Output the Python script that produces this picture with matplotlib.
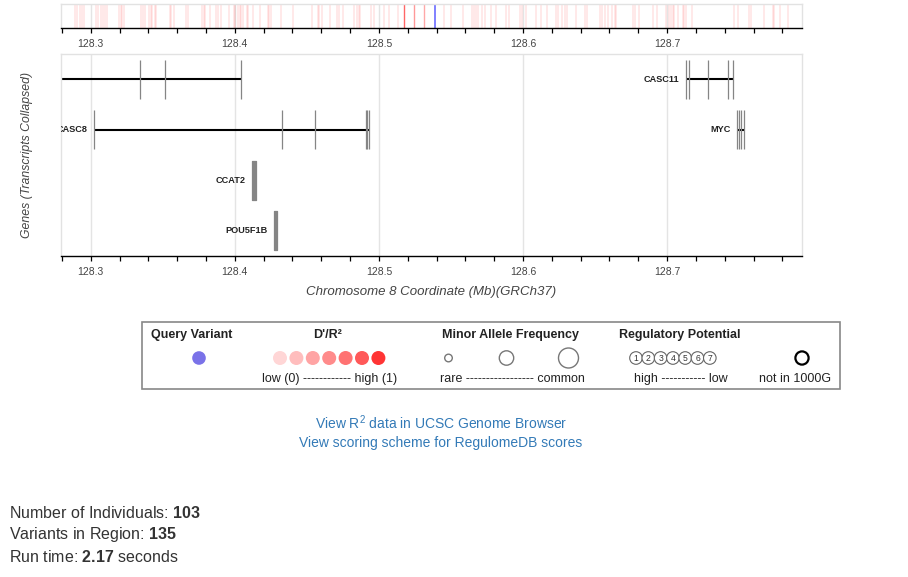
import matplotlib
matplotlib.use('Agg')
import matplotlib.pyplot as plt
import matplotlib.transforms as mtransforms
from matplotlib.patches import Circle, Rectangle
from matplotlib.ticker import MultipleLocator

plt.rcParams['font.family'] = ['Liberation Sans', 'DejaVu Sans']
plt.rcParams['mathtext.fontset'] = 'custom'
plt.rcParams['mathtext.rm'] = 'Liberation Sans'
plt.rcParams['mathtext.it'] = 'Liberation Sans:italic'
plt.rcParams['mathtext.bf'] = 'Liberation Sans:bold'

# posiciones de las variantes de la region (Mb)
variantes = [
    128.2893, 128.2907, 128.2923, 128.2940, 128.2956, 128.3039, 128.3051, 128.3074,
    128.3085, 128.3097, 128.3113, 128.3197, 128.3208, 128.3220, 128.3229, 128.3352,
    128.3363, 128.3375, 128.3405, 128.3416, 128.3428, 128.3444, 128.3456, 128.3548,
    128.3560, 128.3579, 128.3664, 128.3676, 128.3773, 128.3785, 128.3796, 128.3826,
    128.3872, 128.3884, 128.3907, 128.3958, 128.3995, 128.4004, 128.4023, 128.4034,
    128.4046, 128.4060,
    128.4083, 128.4095, 128.4129, 128.4176, 128.4227, 128.4238, 128.4250, 128.4319,
    128.4403, 128.4535, 128.4576, 128.4585, 128.4604, 128.4662, 128.4708, 128.4720,
    128.4750, 128.4828, 128.4847, 128.4859, 128.4870, 128.4944, 128.4963, 128.5032,
    128.5072, 128.5132,
    128.5451, 128.5497, 128.5583, 128.5643, 128.5660, 128.5676, 128.5687, 128.5717,
    128.5736, 128.5775, 128.5810, 128.5884, 128.5903, 128.5979, 128.5995, 128.6023,
    128.6092, 128.6127, 128.6169, 128.6231, 128.6241, 128.6268, 128.6291, 128.6308,
    128.6370, 128.6430, 128.6447, 128.6532, 128.6551, 128.6569, 128.6590, 128.6620,
    128.6639, 128.6648,
    128.6766, 128.6778, 128.6803, 128.6900, 128.6930, 128.6993, 128.7016, 128.7028,
    128.7039, 128.7051, 128.7074, 128.7109, 128.7120, 128.7132, 128.7173, 128.7467,
    128.7491, 128.7567, 128.7579, 128.7671, 128.7734, 128.7745, 128.7785, 128.7838,
]
# variantes con LD visible respecto a la consulta
ld_pos = [128.5171, 128.5247, 128.5315]
ld_alfa = [0.6, 0.4, 0.34]
consulta = 128.5386

# genes (transcritos colapsados); el primero empieza fuera de la ventana y su nombre no se ve
gen_nombres = ['', 'CASC11', 'CASC8', 'MYC', 'CCAT2', 'POU5F1B']
gen_fila = [1, 1, 2, 2, 3, 4]
gen_inicio = [128.2200, 128.7129, 128.3023, 128.7482, 128.4120, 128.4271]
gen_fin = [128.4044, 128.7460, 128.4930, 128.7534, 128.4148, 128.4296]
gen_exones = [
    [(128.3344, 0), (128.3516, 0), (128.4044, 0)],
    [(128.7129, 0), (128.7150, 0), (128.7282, 0), (128.7424, 0), (128.7460, 0)],
    [(128.3023, 0), (128.4328, 0), (128.4556, 0), (128.4910, 0), (128.4920, 0), (128.4930, 0)],
    [(128.7482, 0), (128.7496, 0), (128.7516, 0), (128.7534, 0)],
    [(128.4120, 0.0028)],
    [(128.4271, 0.0025)],
]

# leyenda
dprime_colores = ['#ffd6d6', '#ffbdbd', '#ffa4a4', '#ff8b8b', '#ff7272', '#ff5959', '#ff3434']
maf_radios = [3.8, 7.2, 10.0]
reg_niveles = ['1', '2', '3', '4', '5', '6', '7']

n_individuos = 103
n_variantes = 135
tiempo = 2.17

W, H = 908, 577
xmin, xmax = 128.2794, 128.7936


def caja(x0, y0, x1, y1):
    return [x0 / W, 1 - y1 / H, (x1 - x0) / W, (y1 - y0) / H]


fig = plt.figure(figsize=(W / 100, H / 100), dpi=100)
fig.patch.set_facecolor('white')

# ejes de fondo en pixeles para textos y leyenda
fondo = fig.add_axes([0, 0, 1, 1])
fondo.set_xlim(0, W)
fondo.set_ylim(H, 0)
fondo.axis('off')


def estilo_eje(ax):
    ax.set_xlim(xmin, xmax)
    ax.xaxis.set_major_locator(MultipleLocator(0.1))
    ax.xaxis.set_minor_locator(MultipleLocator(0.02))
    ax.xaxis.set_major_formatter(matplotlib.ticker.FormatStrFormatter('%.1f'))
    ax.tick_params(axis='x', which='both', length=3.6, width=0.9, color='black',
                   labelsize=7.5, labelcolor='#444444', pad=4.5)
    ax.tick_params(axis='y', left=False, labelleft=False)
    for lado in ['top', 'right', 'left']:
        ax.spines[lado].set_color('#e2e2e2')
        ax.spines[lado].set_linewidth(1.0)
    ax.spines['bottom'].set_color('black')
    ax.spines['bottom'].set_linewidth(1.0)
    ax.grid(axis='x', which='major', color='#e4e4e4', linewidth=1.0)
    ax.set_axisbelow(True)


# tira superior de variantes
tira = fig.add_axes(caja(61, 4, 802, 28))
estilo_eje(tira)
tira.set_ylim(0, 1)
tira.vlines(variantes, 0, 1, color='red', alpha=0.11, linewidth=1.1)
for p, a in zip(ld_pos, ld_alfa):
    tira.vlines(p, 0, 1, color='red', alpha=a, linewidth=1.0)
tira.vlines(consulta, 0, 1, color='#8080ff', linewidth=1.4)

# panel de genes
ax = fig.add_axes(caja(61, 54, 802, 256))
estilo_eje(ax)
ax.set_ylim(4.5, 0.5)
desplazado = mtransforms.offset_copy(ax.transData, fig=fig, x=-4.5, y=0, units='points')
for nombre, fila, ini, fin, exones in zip(gen_nombres, gen_fila, gen_inicio, gen_fin, gen_exones):
    ax.hlines(fila, ini, fin, color='black', linewidth=1.5, zorder=2)
    ax.broken_barh(exones, (fila - 0.39, 0.78), facecolor='#858585',
                   edgecolor='#858585', linewidth=0.9, zorder=3)
    if nombre:
        t = ax.text(ini, fila, nombre, transform=desplazado, ha='right', va='center',
                    fontsize=6.6, fontweight='bold', color='#222222', clip_on=True)
        t.set_clip_box(ax.bbox)

ax.set_xlabel('Chromosome 8 Coordinate (Mb)(GRCh37)', fontsize=9.5, style='italic',
              color='#444444', labelpad=6)
fondo.text(27, 155, 'Genes (Transcripts Collapsed)', rotation=90, ha='center', va='center',
           fontsize=8.8, style='italic', color='#444444')

# leyenda
fondo.add_patch(Rectangle((142, 322), 698, 67, facecolor='white', edgecolor='#888888', linewidth=1.2))
y_tit, y_circ, y_txt = 335, 358, 379
fondo.text(192, y_tit, 'Query Variant', ha='center', va='center', fontsize=9, fontweight='bold', color='#222222')
fondo.add_patch(Circle((199, y_circ), 6.8, facecolor='#7a72e8', edgecolor='none'))

fondo.text(328, y_tit, "D'/R²", ha='center', va='center', fontsize=9, fontweight='bold', color='#222222')
for i, c in enumerate(dprime_colores):
    fondo.add_patch(Circle((280 + i * 16.4, y_circ), 7.0, facecolor=c, edgecolor='none'))
fondo.text(330, y_txt, 'low (0) ------------ high (1)', ha='center', va='center', fontsize=9, color='#222222')

fondo.text(511, y_tit, 'Minor Allele Frequency', ha='center', va='center', fontsize=9, fontweight='bold', color='#222222')
for xc, r in zip([448.5, 506.5, 568.5], maf_radios):
    fondo.add_patch(Circle((xc, y_circ), r, facecolor='white', edgecolor='#777777', linewidth=1.0))
fondo.text(512, y_txt, 'rare ----------------- common', ha='center', va='center', fontsize=9, color='#222222')

fondo.text(680, y_tit, 'Regulatory Potential', ha='center', va='center', fontsize=9, fontweight='bold', color='#222222')
for i, n in enumerate(reg_niveles):
    xc = 636 + i * 12.3
    fondo.add_patch(Circle((xc, y_circ), 6.3, facecolor='white', edgecolor='#666666', linewidth=0.8, zorder=3 + i))
    fondo.text(xc, y_circ + 0.3, n, ha='center', va='center', fontsize=6.2, color='#333333', zorder=3 + i)
fondo.text(681, y_txt, 'high ----------- low', ha='center', va='center', fontsize=9, color='#222222')

fondo.add_patch(Circle((802, y_circ), 6.6, facecolor='white', edgecolor='black', linewidth=1.6))
fondo.text(795, y_txt, 'not in 1000G', ha='center', va='center', fontsize=9, color='#222222')

# enlaces
fondo.text(441, 423, 'View R$^2$ data in UCSC Genome Browser', ha='center', va='center',
           fontsize=10, color='#337ab7')
fondo.text(441, 443, 'View scoring scheme for RegulomeDB scores', ha='center', va='center',
           fontsize=10, color='#337ab7')

# resumen
fondo.text(9, 513, 'Number of Individuals: $\\mathbf{%d}$' % n_individuos, ha='left', va='center',
           fontsize=11.5, color='#333333')
fondo.text(9, 535, 'Variants in Region: $\\mathbf{%d}$' % n_variantes, ha='left', va='center',
           fontsize=11.5, color='#333333')
fondo.text(9, 557, 'Run time: $\\mathbf{%.2f}$ seconds' % tiempo, ha='left', va='center',
           fontsize=11.5, color='#333333')

fig.savefig('out.png', dpi=100, facecolor='white')
